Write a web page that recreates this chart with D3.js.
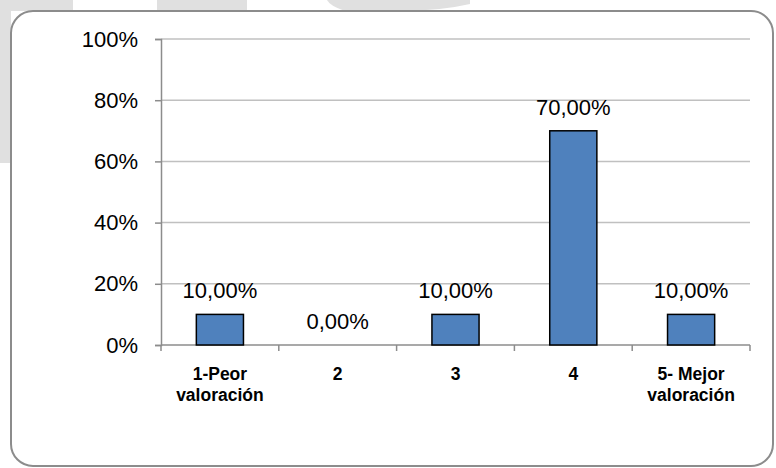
<!DOCTYPE html>
<html><head><meta charset="utf-8">
<script src="https://cdn.jsdelivr.net/npm/d3@7"></script>
<style>body{margin:0;background:#fff}svg{display:block}</style>
</head><body>
<script>
const categories = [["1-Peor","valoración"],["2"],["3"],["4"],["5- Mejor","valoración"]];
const values = [0.10, 0.00, 0.10, 0.70, 0.10];
const valueLabels = ["10,00%","0,00%","10,00%","70,00%","10,00%"];
const yTicks = [0, 0.2, 0.4, 0.6, 0.8, 1.0];
const yTickLabels = ["0%","20%","40%","60%","80%","100%"];

const W = 776, H = 468;
const svg = d3.select("body").append("svg").attr("width", W).attr("height", H);

// background decorations
svg.append("rect").attr("x",0).attr("y",0).attr("width",73).attr("height",11).attr("fill","#e0e0e0");
svg.append("rect").attr("x",0).attr("y",0).attr("width",11).attr("height",163).attr("fill","#e0e0e0");
svg.append("rect").attr("x",157).attr("y",0).attr("width",90).attr("height",11).attr("fill","#e0e0e0");
svg.append("path").attr("d","M327,0 L470,0 L470,4 Q440,11 400,11 L345,11 Q330,6 327,0 Z").attr("fill","#e0e0e0");

// chart frame
svg.append("rect").attr("x",11).attr("y",11).attr("width",762).attr("height",455)
  .attr("rx",22).attr("ry",22).attr("fill","#fff").attr("stroke","#8c8c8c").attr("stroke-width",2);

const x0 = 161, x1 = 750, yTop = 39, yBot = 345;
const x = d3.scaleBand().domain(d3.range(categories.length)).range([x0, x1]).paddingInner(0).paddingOuter(0);
const y = d3.scaleLinear().domain([0,1]).range([yBot, yTop]);

// gridlines
svg.append("g").selectAll("line").data(yTicks.filter(d=>d>0)).join("line")
  .attr("x1",x0).attr("x2",x1).attr("y1",d=>y(d)).attr("y2",d=>y(d))
  .attr("stroke","#c0c0c0").attr("stroke-width",1.5);

// y axis
const yAxis = d3.axisLeft(y).tickValues(yTicks).tickFormat((d,i)=>yTickLabels[i]).tickSize(6).tickPadding(17);
const gy = svg.append("g").attr("transform",`translate(${x0},0)`).call(yAxis);
gy.select(".domain").attr("stroke","#8c8c8c").attr("stroke-width",1.5);
gy.selectAll(".tick line").attr("stroke","#8c8c8c").attr("stroke-width",1.5);
gy.selectAll(".tick text").attr("font-family","'Liberation Sans', Arial, sans-serif").attr("font-size",22).attr("fill","#000");

// x axis
const gx = svg.append("g").attr("transform",`translate(0,${yBot})`);
gx.append("line").attr("x1",x0).attr("x2",x1).attr("stroke","#8c8c8c").attr("stroke-width",1.5);
gx.selectAll("line.tk").data(d3.range(categories.length+1)).join("line").attr("class","tk")
  .attr("x1",i=>x0 + i*x.bandwidth()).attr("x2",i=>x0 + i*x.bandwidth())
  .attr("y1",0).attr("y2",6).attr("stroke","#8c8c8c").attr("stroke-width",1.5);

// category labels
const cl = svg.append("g").selectAll("text").data(categories).join("text")
  .attr("x",(d,i)=>x(i)+x.bandwidth()/2).attr("y",380)
  .attr("text-anchor","middle").attr("font-family","'Liberation Sans', Arial, sans-serif")
  .attr("font-weight","bold").attr("font-size",17.5).attr("fill","#000");
cl.selectAll("tspan").data(d=>d).join("tspan")
  .attr("x",function(){return this.parentNode.getAttribute("x");})
  .attr("dy",(d,i)=>i===0?0:21).text(d=>d);

// bars
const bw = x.bandwidth()*0.4;
svg.append("g").selectAll("rect").data(values.map((v,i)=>({v,i})).filter(d=>d.v>0)).join("rect")
  .attr("x",d=>x(d.i)+x.bandwidth()/2-bw/2).attr("width",bw)
  .attr("y",d=>y(d.v)).attr("height",d=>yBot-y(d.v))
  .attr("fill","#4f81bd").attr("stroke","#000").attr("stroke-width",1.5);

// value labels
svg.append("g").selectAll("text").data(values).join("text")
  .attr("x",(d,i)=>x(i)+x.bandwidth()/2).attr("y",d=>y(d)-16)
  .attr("text-anchor","middle").attr("font-family","'Liberation Sans', Arial, sans-serif")
  .attr("font-size",22).attr("fill","#000").text((d,i)=>valueLabels[i]);
</script>
</body></html>
